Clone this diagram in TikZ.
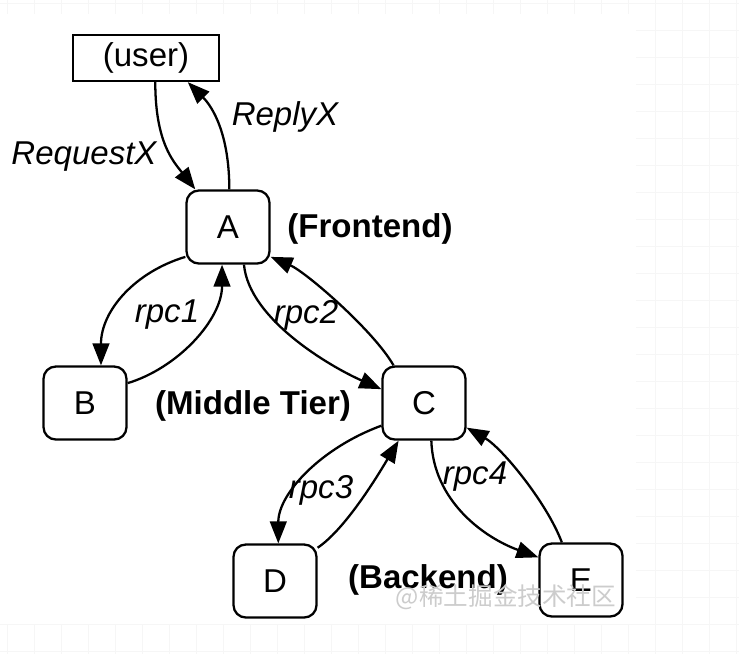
\documentclass[tikz,border=0pt]{standalone}
\usepackage{fontspec}
\setmainfont{Liberation Sans}
\newfontfamily\cjk{Noto Sans CJK SC}
\usepackage{tikz}
\usetikzlibrary{arrows.meta, positioning}
\newcommand{\diagsize}{\fontsize{18.8}{22}\selectfont}
\tikzstyle{client} = [rectangle, minimum width=2.92cm, minimum height=0.92cm, text centered, draw=black, line width=1.3pt, font=\diagsize]
\tikzstyle{server} = [rectangle, rounded corners=7pt, minimum width=1.66cm, minimum height=1.46cm, text centered, draw=black, line width=1.3pt, fill=white, font=\diagsize]
\tikzstyle{tier} = [font=\diagsize\bfseries]
\tikzstyle{msg} = [font=\diagsize\itshape]
\tikzstyle{arrow} = [line width=1.3pt, -{Triangle[length=12.5pt, width=9.5pt]}]
\tikzstyle{paper} = [draw=gray!7, line width=0.5pt]

\begin{document}
\begin{tikzpicture}[x=0.02cm, y=-0.02cm]
    \useasboundingbox (0,0) rectangle (739,654);
    % faint grid behind the screenshot
    \foreach \gx in {0,...,27} \draw [paper] (7+27*\gx,0) -- (7+27*\gx,654);
    \foreach \gy in {0,...,24} \draw [paper] (0,3+27*\gy) -- (739,3+27*\gy);
    \fill [white] (0,14) rectangle (636,624);

    \node (user) [client] at (146,58) {(user)};
    \node (A) [server] at (228,227) {A};
    \node (B) [server] at (85,403) {B};
    \node (C) [server] at (424,403) {C};
    \node (D) [server] at (275,581) {D};
    \node (E) [server] at (581,580) {E};

    \node (front) [tier] at (370,229) {(Frontend)};
    \node (middle) [tier] at (253,406) {(Middle Tier)};
    \node (back) [tier] at (428,580) {(Backend)};

    \draw [arrow] (user.-69) .. controls +(0,60) and +(-22,-28) .. (A.131);
    \draw [arrow] (A.88) .. controls +(0,-55) and +(25,25) .. (user.-30);
    \draw [arrow] (A.215) .. controls +(-50,15) and +(0,-55) .. (B.67);
    \draw [arrow] (B.25) .. controls +(50,-15) and +(0,55) .. (A.-99);
    \draw [arrow] (A.-67) .. controls +(5,55) and +(-50,-22) .. (C.162);
    \draw [arrow] (C.129) .. controls +(-20,-35) and +(35,15) .. (A.-35);
    \draw [arrow] (C.208) .. controls +(-60,22) and +(0,-50) .. (D.85);
    \draw [arrow] (D.38) .. controls +(30,-20) and +(-15,25) .. (C.236);
    \draw [arrow] (C.-79) .. controls +(2,60) and +(-55,-20) .. (E.152);
    \draw [arrow] (E.117) .. controls +(-15,-40) and +(35,20) .. (C.-30);

    \node (req) [msg] at (84,157) {RequestX};
    \node (rep) [msg] at (285,117) {ReplyX};
    \node (rpca) [msg] at (167,315) {rpc1};
    \node (rpcb) [msg] at (306,315) {rpc2};
    \node (rpcc) [msg] at (321,490) {rpc3};
    \node (rpcd) [msg] at (475,477) {rpc4};

    \node (mark) [text=gray!40, font=\cjk\fontsize{14}{16}\selectfont] at (506,597) {@稀土掘金技术社区};
\end{tikzpicture}
\end{document}
